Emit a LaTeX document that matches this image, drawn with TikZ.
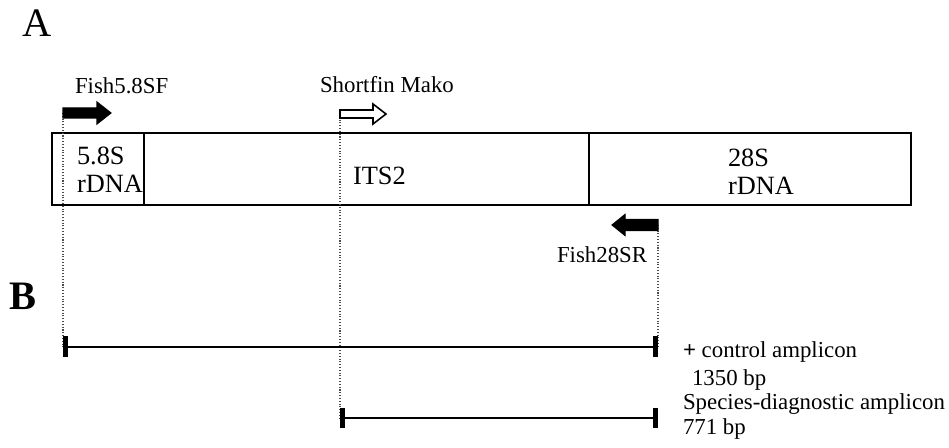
\documentclass[tikz,border=0pt]{standalone}
\usepackage{fontspec}
\setmainfont{Liberation Serif}
\usetikzlibrary{arrows.meta, positioning, calc}

\begin{document}
\begin{tikzpicture}[
  x=0.02cm, y=-0.02cm,
  every node/.style={inner sep=0pt, outer sep=0pt},
  seg/.style={draw, line width=1.3pt, minimum height=1.44cm},
  boxtxt/.style={font=\fontsize{15}{16.5}\selectfont, align=left, anchor=base west},
  lbl/.style={font=\fontsize{13}{15}\selectfont, anchor=base west},
  panel/.style={font=\fontsize{23}{26}\selectfont, anchor=base west},
  primer/.style={fill=black, draw=black, line width=0.6pt},
  primeropen/.style={fill=white, draw=black, line width=0.9pt},
  guide/.style={densely dotted, line width=0.6pt, black!70},
  amp/.style={{Bar[width=0.42cm, line width=0.1cm]}-{Bar[width=0.42cm, line width=0.1cm]}, line width=1.2pt}
]
  \useasboundingbox (0,0) rectangle (949,448);

  % panel letters
  \node[panel] (pa) at (22,37) {A};
  \node[panel, font=\fontsize{23}{26}\selectfont\bfseries] (pb) at (10,310) {B};

  % rDNA region
  \node[seg, minimum width=1.84cm] (r58) at (98,169) {};
  \node[seg, minimum width=8.9cm] (its) at (366.5,169) {};
  \node[seg, minimum width=6.44cm] (r28) at (750,169) {};
  \node[boxtxt] (t58) at (77,193) {5.8S\\rDNA};
  \node[boxtxt] (tits) at (353,185) {ITS2};
  \node[boxtxt] (t28) at (728,195) {28S\\rDNA};

  % primer sites and amplicon ends
  \coordinate (fwd) at (63,113);
  \coordinate (mako) at (340,114);
  \coordinate (rev) at (658,225);
  \coordinate (c1a) at (63,347);
  \coordinate (c1b) at (658,347);
  \coordinate (c2a) at (340,418);
  \coordinate (c2b) at (658,418);

  \draw[guide] (fwd) -- (c1a);
  \draw[guide] (mako) -- (c2a);
  \draw[guide] (rev) -- (c1b);

  \draw[primer] (fwd) ++(0,-5) -- ++(34,0) -- ++(0,-6) -- ++(14,11) -- ++(-14,11) -- ++(0,-6) -- ++(-34,0) -- cycle;
  \draw[primeropen] (mako) ++(0,-4) -- ++(33,0) -- ++(0,-6) -- ++(13,10) -- ++(-13,10) -- ++(0,-6) -- ++(-33,0) -- cycle;
  \draw[primer] (rev) ++(0,-5.5) -- ++(-33,0) -- ++(0,-5) -- ++(-13,10.5) -- ++(13,10.5) -- ++(0,-5) -- ++(33,0) -- cycle;

  \node[lbl] (lf) at (75,94) {Fish5.8SF};
  \node[lbl] (lm) at (320,93) {Shortfin Mako};
  \node[lbl] (lr) at (557,263) {Fish28SR};

  % amplicons
  \draw[amp] (c1a) -- (c1b);
  \draw[amp] (c2a) -- (c2b);
  \node[lbl] (lc) at (683,358) {\textbf{+} control amplicon};
  \node[lbl] (lcbp) at (692,386) {1350 bp};
  \node[lbl] (ls) at (683,410) {Species-diagnostic amplicon};
  \node[lbl] (lsbp) at (683,435) {771 bp};
\end{tikzpicture}
\end{document}
